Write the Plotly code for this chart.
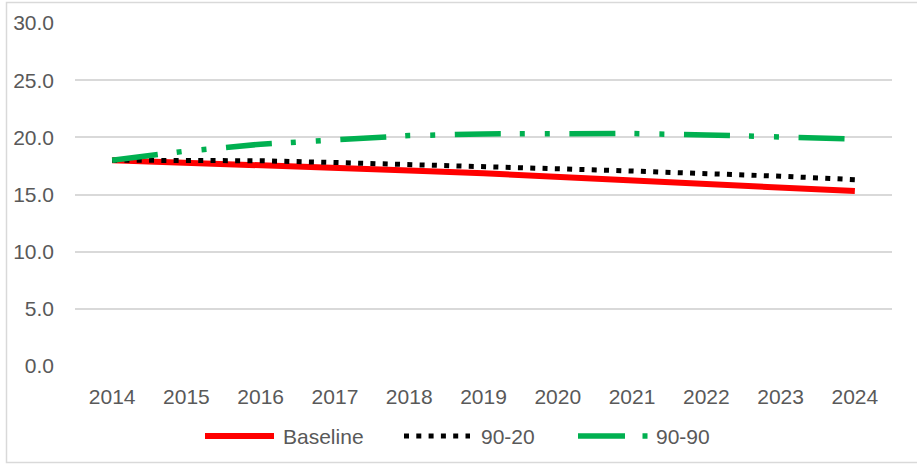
import plotly.graph_objects as go

years = ["2014", "2015", "2016", "2017", "2018", "2019", "2020", "2021", "2022", "2023", "2024"]
baseline = [18.0, 17.8, 17.6, 17.35, 17.1, 16.85, 16.55, 16.25, 15.95, 15.65, 15.3]
s90_20 = [18.0, 18.0, 17.95, 17.8, 17.65, 17.45, 17.25, 17.05, 16.85, 16.6, 16.3]
s90_90 = [18.0, 18.8, 19.4, 19.82, 20.15, 20.3, 20.35, 20.33, 20.21, 20.04, 19.85]
y_ticks = [0, 5, 10, 15, 20, 25, 30]
y_tick_text = ["0.0", "5.0", "10.0", "15.0", "20.0", "25.0", "30.0"]
series_names = ["Baseline", "90-20", "90-90"]

RED = "#FF0000"
BLACK = "#000000"
GREEN = "#00B050"
GRID = "#D9D9D9"
TXT = "#595959"
FONT = "Liberation Sans, Arial, sans-serif"

W, H = 917, 464
ML, MR, MT, MB = 75, 25, 23, 98
PW = W - ML - MR
PH = H - MT - MB


def px_x(p):
    return (p - ML) / PW


def px_y(p):
    return (H - MB - p) / PH


fig = go.Figure()
fig.add_trace(go.Scatter(x=years, y=baseline, name=series_names[0], mode="lines",
                         line=dict(color=RED, width=6)))
fig.add_trace(go.Scatter(x=years, y=s90_20, name=series_names[1], mode="lines",
                         line=dict(color=BLACK, width=5, dash="5px,7.3px")))
fig.add_trace(go.Scatter(x=years, y=s90_90, name=series_names[2], mode="lines",
                         line=dict(color=GREEN, width=5.5, dash="46px,19px,5px,20px,5px,19.6px")))

shapes = []
# outer frame
shapes.append(dict(type="rect", xref="paper", yref="paper",
                   x0=px_x(6.5), x1=px_x(920), y0=px_y(462.5), y1=px_y(2.5),
                   line=dict(color=GRID, width=1.5), fillcolor="rgba(0,0,0,0)", layer="below"))

ly = px_y(436)
# custom legend
shapes.append(dict(type="line", xref="paper", yref="paper", x0=px_x(205), x1=px_x(274), y0=ly, y1=ly,
                   line=dict(color=RED, width=6)))
shapes.append(dict(type="line", xref="paper", yref="paper", x0=px_x(404), x1=px_x(470), y0=ly, y1=ly,
                   line=dict(color=BLACK, width=5, dash="5px,7.3px")))
shapes.append(dict(type="line", xref="paper", yref="paper", x0=px_x(578), x1=px_x(648), y0=ly, y1=ly,
                   line=dict(color=GREEN, width=5.5, dash="47px,17.5px,5px,100px")))

annotations = []
for name, xpx in zip(series_names, [281, 479, 654]):
    annotations.append(dict(text=name, xref="paper", yref="paper", x=px_x(xpx), y=ly,
                            xanchor="left", yanchor="middle", showarrow=False,
                            font=dict(family=FONT, size=21, color=TXT)))

fig.update_layout(
    width=W, height=H,
    margin=dict(l=ML, r=MR, t=MT, b=MB),
    paper_bgcolor="white", plot_bgcolor="white",
    showlegend=False,
    shapes=shapes,
    annotations=annotations,
    xaxis=dict(type="category", categoryorder="array", categoryarray=years,
               range=[-0.5, 10.5], showgrid=False, zeroline=False, showline=False,
               ticks="", tickfont=dict(family=FONT, size=21, color=TXT),
               ticklabelstandoff=16),
    yaxis=dict(range=[0, 30], tickvals=y_ticks, ticktext=y_tick_text,
               showgrid=True, gridcolor=GRID, gridwidth=1.5,
               zeroline=False, showline=False, ticks="",
               tickfont=dict(family=FONT, size=21, color=TXT),
               ticklabelstandoff=20),
)

fig.write_html("out.html", config={"displayModeBar": False},
               post_script="document.body.style.margin='0';document.body.style.overflow='hidden';")
